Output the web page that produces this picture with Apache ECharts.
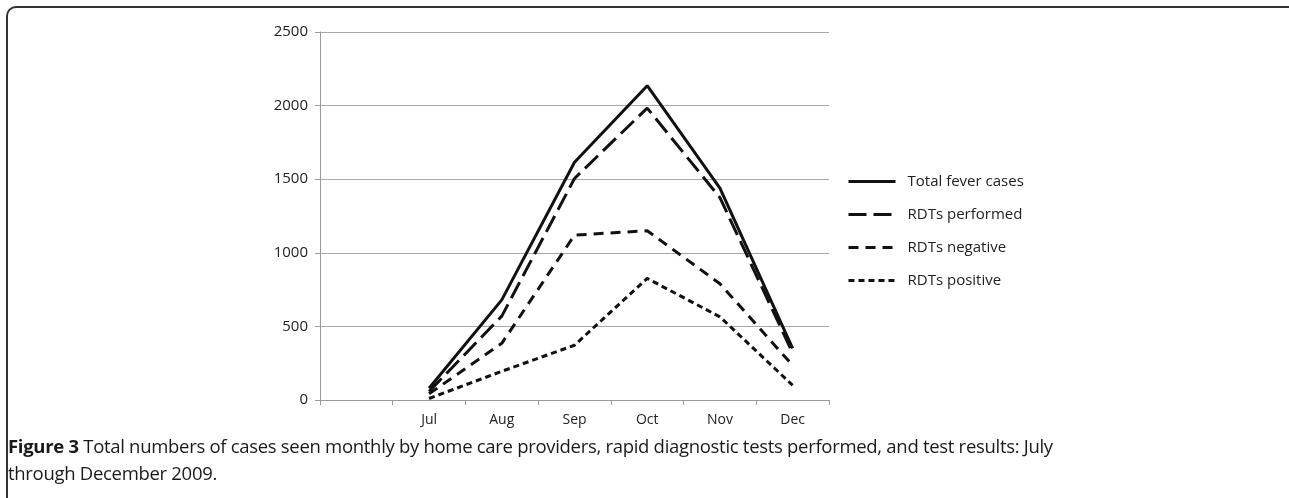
<!DOCTYPE html>
<html><head><meta charset="utf-8">
<script src="https://cdn.jsdelivr.net/npm/echarts@6/dist/echarts.min.js"></script>
<style>
html,body{margin:0;padding:0;background:#fff;width:1289px;height:498px;overflow:hidden;}
#frame{position:absolute;left:6px;top:6px;width:1300px;height:600px;border:2px solid #333;border-radius:10px;box-sizing:border-box;}
#chart{position:absolute;left:0;top:0;width:1289px;height:498px;}
#cap{position:absolute;left:8px;top:432px;font-family:"Open Sans",sans-serif;font-size:18.5px;line-height:27px;color:#1a1a1a;white-space:nowrap;letter-spacing:-0.3px;}
</style></head>
<body>
<div id="frame"></div>
<div id="chart"></div>
<div id="cap"><b>Figure 3</b> Total numbers of cases seen monthly by home care providers, rapid diagnostic tests performed, and test results: July<br>through December 2009.</div>
<script>
const categories = ["", "Jul", "Aug", "Sep", "Oct", "Nov", "Dec"];
const seriesNames = ["Total fever cases", "RDTs performed", "RDTs negative", "RDTs positive"];
const totalFever = [null, 80, 680, 1615, 2135, 1440, 350];
const rdtPerformed = [null, 58, 570, 1505, 1983, 1375, 320];
const rdtNegative = [null, 42, 385, 1120, 1150, 790, 235];
const rdtPositive = [null, 10, 195, 372, 826, 565, 100];
const yTicks = [0, 500, 1000, 1500, 2000, 2500];

const chart = echarts.init(document.getElementById('chart'));
const font = '"Open Sans", sans-serif';
function mk(name, data, type) {
  return {
    name: name, type: 'line', data: data, symbol: 'none', connectNulls: false,
    lineStyle: { color: '#111', width: 3, type: type, cap: 'butt' },
    itemStyle: { color: '#111' }, animation: false
  };
}
chart.setOption({
  animation: false,
  grid: { left: 320, right: 460, top: 32, bottom: 98, containLabel: false },
  xAxis: {
    type: 'category', data: categories, boundaryGap: true,
    axisLine: { lineStyle: { color: '#9a9a9a', width: 1 } },
    axisTick: { show: true, length: 5, lineStyle: { color: '#9a9a9a' }, alignWithLabel: false },
    axisLabel: { color: '#222', fontFamily: font, fontSize: 14, margin: 13 }
  },
  yAxis: {
    type: 'value', min: yTicks[0], max: yTicks[yTicks.length - 1], interval: 500,
    axisLine: { show: true, lineStyle: { color: '#9a9a9a', width: 1 } },
    axisTick: { show: true, length: 5, lineStyle: { color: '#9a9a9a' } },
    splitLine: { lineStyle: { color: '#a8a8a8', width: 1 } },
    axisLabel: { color: '#222', fontFamily: font, fontSize: 15, margin: 12, formatter: v => String(v) }
  },
  legend: {
    orient: 'vertical', left: 847, top: 174, padding: 0, itemWidth: 47, itemHeight: 14, itemGap: 18,
    itemStyle: { opacity: 0 },
    lineStyle: { width: 3 },
    textStyle: { color: '#222', fontFamily: font, fontSize: 15, padding: [0, 0, 0, 7] },
    data: seriesNames
  },
  series: [
    mk(seriesNames[0], totalFever, 'solid'),
    mk(seriesNames[1], rdtPerformed, [18, 7]),
    mk(seriesNames[2], rdtNegative, [10, 7]),
    mk(seriesNames[3], rdtPositive, [6, 4])
  ]
});
</script>
</body></html>
